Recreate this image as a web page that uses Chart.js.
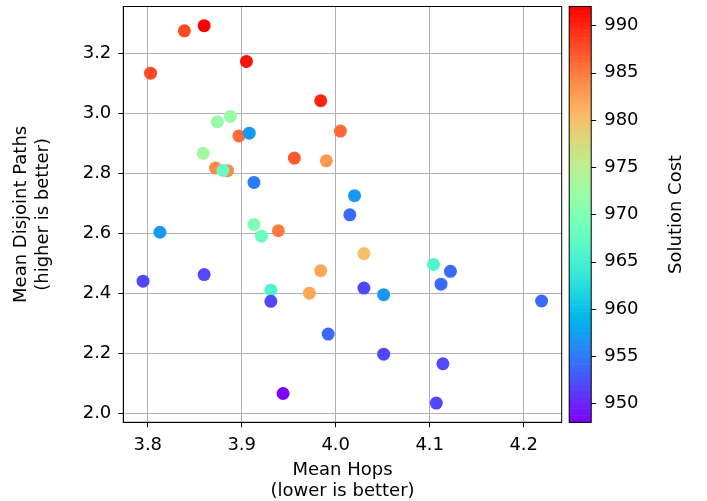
<!DOCTYPE html>
<html lang="en">
<head>
<meta charset="UTF-8">
<title>Mean Hops vs Mean Disjoint Paths</title>
<script src="https://cdn.jsdelivr.net/npm/chart.js"></script>
<style>
  html, body { margin: 0; padding: 0; background: #fff; }
  #wrap { position: relative; width: 707px; height: 501px; }
</style>
</head>
<body>
<div id="wrap"><canvas id="chart" width="707" height="501"></canvas></div>
<script>
// values
const meanHops = [3.839, 3.860, 3.905, 3.803, 3.984, 3.888, 3.874, 3.897, 3.908, 4.005,
                  3.859, 3.956, 3.990, 3.872, 3.885, 3.880, 3.913, 4.020, 4.015, 3.813,
                  3.913, 3.921, 3.939, 3.795, 3.860, 3.984, 3.972, 3.931, 3.931, 3.992,
                  3.944, 4.030, 4.104, 4.122, 4.112, 4.030, 4.051, 4.219, 4.051, 4.114, 4.107];
const meanPaths = [3.274, 3.291, 3.172, 3.133, 3.041, 2.989, 2.971, 2.924, 2.933, 2.940,
                   2.866, 2.850, 2.841, 2.817, 2.808, 2.809, 2.769, 2.725, 2.661, 2.603,
                   2.629, 2.590, 2.608, 2.440, 2.462, 2.475, 2.400, 2.410, 2.373, 2.264,
                   2.066, 2.532, 2.496, 2.473, 2.430, 2.417, 2.395, 2.374, 2.197, 2.165, 2.034];
const solutionCost = [988, 992, 991, 988, 990, 972, 972, 986, 957, 986,
                      973, 987, 983, 984, 984, 968, 955, 957, 954, 957,
                      970, 968, 985, 952, 952, 982, 982, 966, 952, 954,
                      948, 980, 966, 954, 954, 952, 957, 954, 952, 952, 952];

const xTicks = [3.8, 3.9, 4.0, 4.1, 4.2];
const yTicks = [2.0, 2.2, 2.4, 2.6, 2.8, 3.0, 3.2];
const costTicks = [950, 955, 960, 965, 970, 975, 980, 985, 990];
const costMin = 948, costMax = 992;

// matplotlib "rainbow" colormap
function rainbow(v) {
    const t = Math.min(1, Math.max(0, (v - costMin) / (costMax - costMin)));
    const r = Math.min(1, Math.abs(2 * t - 0.5));
    const g = Math.sin(t * Math.PI);
    const b = Math.cos(t * Math.PI / 2);
    return `rgb(${Math.round(r * 255)},${Math.round(g * 255)},${Math.round(b * 255)})`;
}

const FONT = { family: 'DejaVu Sans', size: 18 };
Chart.defaults.font.family = FONT.family;
Chart.defaults.font.size = FONT.size;
Chart.defaults.color = '#000';

// no extra layout padding from tick labels
const noPad = s => { s.paddingTop = 0; s.paddingBottom = 0; s.paddingLeft = 0; s.paddingRight = 0; };

const colorbar = {
    id: 'colorbar',
    afterDraw(chart) {
        const ctx = chart.ctx, a = chart.chartArea, cb = chart.scales.cb;
        const x0 = a.right + 7.5, w = 22;
        ctx.save();
        // gradient bar
        const step = 0.25;
        for (let v = costMin; v < costMax; v += step) {
            const y1 = cb.getPixelForValue(v), y2 = cb.getPixelForValue(v + step);
            ctx.fillStyle = rainbow(v + step / 2);
            ctx.fillRect(x0, y2, w, y1 - y2 + 0.6);
        }
        ctx.strokeStyle = '#000';
        ctx.lineWidth = 1;
        ctx.strokeRect(x0, cb.top, w, cb.bottom - cb.top);
        // tick marks
        costTicks.forEach(v => {
            const y = Math.round(cb.getPixelForValue(v)) + 0.5;
            ctx.beginPath();
            ctx.moveTo(x0 + w, y);
            ctx.lineTo(x0 + w + 5, y);
            ctx.stroke();
        });
        // label
        ctx.translate(676, (cb.top + cb.bottom) / 2);
        ctx.rotate(-Math.PI / 2);
        ctx.fillStyle = '#000';
        ctx.font = `${FONT.size}px ${FONT.family}`;
        ctx.textAlign = 'center';
        ctx.textBaseline = 'middle';
        ctx.fillText('Solution Cost', 0, 0);
        ctx.restore();

        // axes frame
        ctx.save();
        ctx.strokeStyle = '#000';
        ctx.lineWidth = 1;
        ctx.strokeRect(a.left, a.top, a.right - a.left, a.bottom - a.top);
        ctx.restore();
    }
};

const points = meanHops.map((x, i) => ({ x: x, y: meanPaths[i] }));

new Chart(document.getElementById('chart'), {
    type: 'scatter',
    data: {
        datasets: [{
            label: 'Solutions',
            data: points,
            pointRadius: 6.5,
            pointBorderWidth: 0,
            pointBackgroundColor: solutionCost.map(rainbow),
            pointBorderColor: solutionCost.map(rainbow)
        }]
    },
    options: {
        responsive: false,
        animation: false,
        events: [],
        layout: { padding: { top: 5, left: 0, right: 0, bottom: 0 } },
        plugins: { legend: { display: false }, tooltip: { enabled: false } },
        scales: {
            x: {
                type: 'linear',
                min: 3.774, max: 4.2404,
                afterBuildTicks: s => { s.ticks = xTicks.map(v => ({ value: v })); },
                afterFit: s => { s.height = 78.7; noPad(s); },
                ticks: { padding: 7, callback: v => v.toFixed(1) },
                grid: { color: '#b0b0b0', lineWidth: 1, tickColor: '#000', tickLength: 5 },
                border: { color: '#000', width: 1 },
                title: { display: true, text: ['Mean Hops', '(lower is better)'], padding: { top: 0, bottom: -1.5 }, font: { size: FONT.size, lineHeight: 1.2 } }
            },
            y: {
                type: 'linear',
                min: 1.970, max: 3.355,
                afterBuildTicks: s => { s.ticks = yTicks.map(v => ({ value: v })); },
                afterFit: s => { s.width = 123.3; noPad(s); },
                ticks: { padding: 7, callback: v => v.toFixed(1) },
                grid: { color: '#b0b0b0', lineWidth: 1, tickColor: '#000', tickLength: 5 },
                border: { color: '#000', width: 1 },
                title: { display: true, text: ['Mean Disjoint Paths', '(higher is better)'], padding: { top: 10.5, bottom: 0 }, font: { size: FONT.size, lineHeight: 1.2 } }
            },
            cb: {
                type: 'linear',
                position: 'right',
                min: costMin, max: costMax,
                afterBuildTicks: s => { s.ticks = costTicks.map(v => ({ value: v })); },
                afterFit: s => { s.width = 145.3; noPad(s); },
                ticks: { padding: 42.5, callback: v => String(v) },
                grid: { display: false, drawTicks: false },
                border: { display: false }
            }
        }
    },
    plugins: [colorbar]
});
</script>
</body>
</html>
